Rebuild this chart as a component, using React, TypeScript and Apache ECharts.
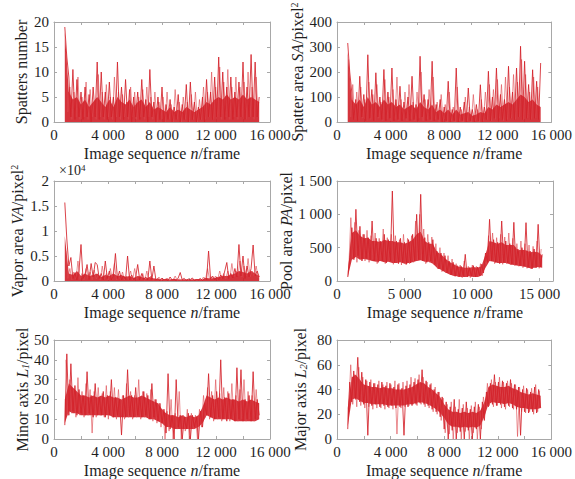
import React, { useEffect, useRef } from 'react';
import * as echarts from 'echarts';

// Sampled image sequence: frame = FRAME_START + i * FRAME_STEP (signal trace)
const FRAME_START = 800;
const FRAME_STEP = 150;
// Second sampled trace, half a step later: frame = FRAME_START_B + i * FRAME_STEP
const FRAME_START_B = 875;
// Dense core of each trace: frame = FRAME_START + i * CORE_STEP
const CORE_STEP = 300;

// Spatters number
const SPATTERS = [
  19, 13, 9, 1, 10.5, 0.5, 8.5, 1, 6, 0.5,
  7, 1, 5.5, 0, 7, 1, 12, 0.5, 10, 1,
  6, 0.5, 8, 1, 5, 0, 12, 1, 7, 0.5,
  8.5, 1, 6.5, 0, 5, 1, 6, 0.5, 8.5, 1,
  4.5, 0, 10.5, 1, 4, 0, 5, 0.5, 7, 0,
  3.5, 0.5, 4.5, 0, 3, 0.5, 5.5, 0, 3.5, 0.5,
  7.5, 0, 8, 0.5, 4, 0, 3, 0.5, 5, 0,
  8.5, 1, 6, 0.5, 9, 1, 13, 1, 10, 0.5,
  7, 1, 9, 0.5, 6, 1, 8, 1, 12, 0.5,
  7, 1, 13.5, 1, 12, 1, 5,
];
const SPATTERS_B = [
  14, 2, 7, 0.5, 6, 1, 9, 0.5, 5, 1,
  8, 0.5, 6.5, 1, 4, 0.5, 9.5, 1, 6, 0.5,
  7.5, 1, 5, 0.5, 9, 1, 6, 0.5, 5.5, 1,
  4, 0.5, 7, 1, 6, 0.5, 5, 1, 6.5, 0.5,
  7, 1, 5, 0.5, 6, 0, 4, 0.5, 5, 0,
  6, 0.5, 3.5, 0, 6.5, 0.5, 4, 0, 5, 0.5,
  4, 0, 5.5, 0.5, 6, 0, 4.5, 0.5, 7, 0.5,
  6, 1, 10, 0.5, 7, 1, 11, 0.5, 8, 1,
  10.5, 0.5, 7, 1, 9, 0.5, 7, 1, 8, 0.5,
  10, 1, 7, 0.5, 9, 1,
];
const SPATTERS_CORE_HI = [
  18, 6, 4.5, 5, 3.5, 4.5, 3, 4, 5, 4,
  3, 4.5, 3, 5, 4, 3.5, 4.5, 3, 4, 4.5,
  3, 4, 2.5, 3, 2.5, 2, 3, 2, 2.5, 2,
  3, 2.5, 2, 2.5, 3, 4, 3.5, 4.5, 5, 4.5,
  5.5, 4.5, 5, 4.5, 5.5, 4.5, 5, 4.5, 4,
];

// Spatter area SA / pixel^2
const SPATTER_AREA = [
  316, 200, 120, 10, 90, 5, 183, 20, 110, 5,
  269, 15, 130, 5, 197, 20, 100, 10, 210, 5,
  120, 15, 216, 5, 90, 10, 143, 5, 80, 15,
  100, 5, 183, 10, 70, 5, 263, 20, 110, 5,
  90, 10, 243, 5, 70, 10, 90, 0, 60, 5,
  163, 0, 50, 5, 216, 0, 60, 5, 80, 0,
  136, 5, 50, 0, 70, 5, 149, 0, 60, 10,
  203, 5, 100, 15, 216, 5, 110, 10, 90, 5,
  223, 15, 120, 10, 216, 20, 303, 10, 243, 15,
  150, 10, 209, 15, 163, 10, 236,
];
const SPATTER_AREA_B = [
  250, 20, 150, 10, 120, 5, 140, 15, 90, 5,
  160, 10, 110, 5, 150, 15, 80, 5, 170, 10,
  100, 5, 130, 10, 180, 5, 90, 10, 120, 5,
  150, 10, 80, 5, 120, 15, 200, 5, 90, 10,
  130, 5, 180, 10, 80, 0, 110, 5, 70, 0,
  120, 5, 60, 0, 140, 5, 50, 0, 100, 5,
  60, 0, 110, 5, 50, 0, 90, 5, 120, 10,
  150, 5, 130, 10, 170, 15, 150, 5, 180, 10,
  140, 15, 190, 10, 160, 20, 250, 10, 190, 15,
  120, 10, 180, 15, 140, 10,
];
const SPATTER_AREA_CORE_HI = [
  280, 90, 70, 90, 60, 100, 70, 80, 60, 90,
  70, 80, 60, 70, 50, 60, 70, 50, 80, 60,
  50, 70, 40, 50, 35, 50, 30, 50, 30, 35,
  40, 25, 30, 40, 35, 60, 50, 70, 60, 70,
  80, 70, 90, 110, 100, 80, 90, 70, 60,
];

// Vapor area VA / pixel^2 (x 10^4)
const VAPOR_AREA = [
  1.57, 0.84, 0.3, 0.47, 0.05, 0.15, 0.02, 0.2, 0.73, 0.05,
  0.12, 0.33, 0.03, 0.35, 0.08, 0.37, 0.33, 0.05, 0.15, 0.02,
  0.4, 0.05, 0.2, 0.02, 0.1, 0.55, 0.05, 0.2, 0.02, 0.1,
  0.03, 0.5, 0.02, 0.12, 0.03, 0.08, 0.33, 0.02, 0.15, 0.03,
  0.08, 0.02, 0.4, 0.03, 0.3, 0.02, 0.05, 0.01, 0.06, 0.02,
  0.04, 0.01, 0.08, 0.02, 0.04, 0.01, 0.06, 0.17, 0.02, 0.05,
  0.01, 0.04, 0.02, 0.06, 0.01, 0.03, 0.02, 0.05, 0.01, 0.06,
  0.03, 0.6, 0.04, 0.1, 0.02, 0.08, 0.03, 0.12, 0.05, 0.2,
  0.37, 0.05, 0.15, 0.06, 0.25, 0.08, 0.73, 0.1, 0.5, 0.05,
  0.3, 0.08, 0.25, 0.72, 0.1, 0.2, 0.08,
];
const VAPOR_AREA_B = [
  0.6, 0.05, 0.25, 0.02, 0.18, 0.04, 0.4, 0.03, 0.15, 0.02,
  0.25, 0.05, 0.18, 0.02, 0.22, 0.04, 0.12, 0.02, 0.3, 0.03,
  0.15, 0.02, 0.25, 0.03, 0.35, 0.02, 0.1, 0.03, 0.18, 0.02,
  0.1, 0.03, 0.2, 0.02, 0.25, 0.03, 0.1, 0.02, 0.15, 0.01,
  0.2, 0.02, 0.1, 0.01, 0.05, 0.02, 0.08, 0.01, 0.04, 0.01,
  0.06, 0.01, 0.03, 0.02, 0.1, 0.01, 0.04, 0.01, 0.05, 0.02,
  0.03, 0.01, 0.05, 0.02, 0.03, 0.01, 0.04, 0.02, 0.08, 0.03,
  0.25, 0.03, 0.08, 0.04, 0.1, 0.03, 0.2, 0.05, 0.15, 0.04,
  0.2, 0.05, 0.35, 0.08, 0.2, 0.1, 0.4, 0.08, 0.3, 0.1,
  0.45, 0.08, 0.2, 0.1, 0.3, 0.06,
];
const VAPOR_AREA_CORE_HI = [
  0.9, 0.15, 0.12, 0.2, 0.1, 0.15, 0.1, 0.12, 0.15, 0.08,
  0.12, 0.1, 0.15, 0.1, 0.12, 0.08, 0.1, 0.06, 0.1, 0.08,
  0.05, 0.08, 0.05, 0.04, 0.03, 0.04, 0.03, 0.04, 0.03, 0.03,
  0.03, 0.03, 0.03, 0.04, 0.03, 0.06, 0.05, 0.06, 0.08, 0.1,
  0.1, 0.12, 0.15, 0.2, 0.18, 0.15, 0.2, 0.15, 0.1,
];

// Pool area PA / pixel
const POOL_AREA = [
  60, 350, 800, 320, 1075, 380, 820, 300, 700, 340,
  650, 320, 900, 300, 640, 280, 600, 300, 700, 270,
  620, 300, 1350, 280, 600, 260, 640, 280, 580, 250,
  620, 270, 700, 300, 1000, 320, 1300, 300, 650, 280,
  580, 300, 620, 250, 450, 180, 420, 150, 380, 120,
  300, 90, 280, 70, 230, 60, 220, 80, 400, 60,
  200, 70, 230, 60, 210, 80, 250, 120, 420, 280,
  925, 300, 620, 280, 580, 260, 900, 280, 600, 270,
  560, 250, 880, 240, 480, 230, 500, 220, 875, 200,
  450, 180, 480, 200, 850, 210, 400,
];
const POOL_AREA_B = [
  200, 950, 350, 880, 280, 760, 330, 700, 300, 760,
  280, 680, 320, 720, 260, 640, 300, 780, 260, 650,
  300, 700, 250, 680, 280, 620, 240, 700, 250, 640,
  260, 680, 280, 900, 300, 1000, 320, 780, 260, 700,
  280, 660, 250, 560, 180, 500, 140, 420, 120, 380,
  100, 330, 80, 260, 60, 240, 50, 300, 60, 220,
  50, 240, 60, 220, 70, 260, 80, 300, 250, 680,
  300, 720, 260, 650, 280, 700, 250, 660, 260, 720,
  240, 640, 230, 560, 220, 600, 200, 560, 190, 540,
  180, 520, 200, 600, 190, 480,
];
const POOL_AREA_CORE_HI = [
  150, 720, 760, 680, 640, 650, 600, 600, 580, 620,
  600, 600, 580, 580, 560, 580, 620, 700, 740, 600,
  560, 560, 440, 400, 340, 290, 260, 220, 210, 200,
  200, 210, 200, 220, 400, 600, 580, 560, 580, 540,
  540, 540, 460, 470, 460, 430, 440, 430, 380,
];
const POOL_AREA_CORE_LO = [
  60, 320, 360, 320, 330, 320, 300, 290, 300, 280,
  290, 270, 270, 280, 260, 270, 280, 300, 310, 290,
  290, 260, 200, 170, 130, 100, 80, 70, 60, 60,
  70, 60, 60, 80, 200, 300, 290, 270, 270, 270,
  250, 240, 230, 220, 210, 190, 200, 210, 200,
];

// Minor axis L1 / pixel
const MINOR_AXIS = [
  7, 43, 12, 38, 14, 27, 12, 25, 13, 22,
  12, 34, 13, 22, 11, 28, 12, 21, 12, 24,
  11, 22, 12, 30, 11, 21, 12, 20, 2, 22,
  11, 35, 12, 22, 11, 26, 12, 21, 11, 24,
  12, 22, 10, 28, 11, 20, 9, 18, 8, 15,
  3, 33, 5, 12, 0, 30, 6, 12, 0, 11,
  5, 13, 0, 12, 6, 11, 0, 14, 6, 18,
  12, 33, 11, 22, 10, 24, 11, 40, 10, 21,
  9, 23, 10, 20, 9, 36, 10, 35, 9, 20,
  10, 22, 9, 34, 10, 20, 12,
];
const MINOR_AXIS_B = [
  40, 12, 30, 13, 25, 11, 31, 12, 24, 11,
  28, 12, 25, 3, 24, 11, 26, 12, 23, 11,
  27, 10, 24, 11, 26, 10, 25, 11, 22, 10,
  28, 11, 24, 10, 22, 11, 30, 10, 24, 11,
  23, 10, 25, 9, 20, 8, 18, 6, 15, 0,
  14, 4, 20, 0, 13, 5, 24, 0, 12, 4,
  15, 0, 13, 5, 12, 0, 15, 6, 22, 11,
  26, 10, 24, 9, 30, 10, 23, 9, 26, 10,
  24, 9, 28, 10, 22, 9, 25, 10, 30, 9,
  24, 10, 22, 9, 25, 11,
];
const MINOR_AXIS_CORE_HI = [
  20, 28, 26, 24, 22, 22, 21, 22, 21, 22,
  21, 22, 21, 21, 20, 21, 22, 21, 21, 22,
  21, 20, 19, 18, 15, 13, 12, 12, 11, 12,
  11, 12, 11, 12, 16, 22, 21, 20, 21, 20,
  21, 20, 20, 19, 20, 19, 20, 19, 18,
];
const MINOR_AXIS_CORE_LO = [
  8, 14, 13, 13, 12, 12, 12, 12, 12, 12,
  12, 12, 11, 11, 11, 11, 11, 11, 11, 11,
  11, 10, 10, 9, 8, 6, 6, 5, 5, 5,
  5, 5, 5, 6, 8, 12, 11, 10, 10, 10,
  10, 10, 9, 9, 9, 9, 9, 9, 10,
];

// Major axis L2 / pixel
const MAJOR_AXIS = [
  8, 46, 30, 55, 32, 66, 30, 54, 28, 48,
  3, 46, 27, 45, 28, 44, 26, 46, 27, 43,
  26, 45, 27, 42, 25, 44, 26, 41, 3, 43,
  26, 44, 27, 46, 28, 48, 29, 56, 28, 47,
  27, 44, 24, 40, 22, 38, 18, 34, 8, 30,
  0, 26, 7, 32, 0, 24, 6, 25, 0, 30,
  7, 24, 0, 26, 8, 28, 0, 30, 15, 38,
  26, 45, 28, 52, 27, 46, 28, 47, 26, 45,
  27, 48, 25, 44, 24, 42, 3, 40, 22, 41,
  21, 38, 22, 42, 21, 40, 25,
];
const MAJOR_AXIS_B = [
  25, 60, 28, 52, 26, 58, 27, 50, 25, 47,
  26, 48, 24, 45, 25, 47, 25, 44, 24, 46,
  25, 44, 24, 47, 4, 45, 25, 46, 26, 47,
  27, 50, 28, 49, 27, 52, 28, 50, 26, 46,
  25, 45, 22, 42, 20, 38, 15, 33, 5, 28,
  4, 30, 0, 26, 5, 32, 0, 28, 6, 25,
  0, 27, 5, 30, 0, 26, 8, 34, 22, 45,
  27, 48, 26, 46, 27, 50, 25, 46, 24, 47,
  26, 45, 24, 44, 2, 42, 22, 43, 21, 40,
  22, 41, 20, 44, 22, 39,
];
const MAJOR_AXIS_CORE_HI = [
  25, 50, 52, 48, 44, 43, 42, 42, 41, 42,
  41, 41, 40, 40, 40, 41, 42, 44, 46, 45,
  42, 40, 37, 34, 28, 24, 22, 22, 21, 22,
  21, 22, 21, 23, 30, 42, 44, 43, 42, 42,
  43, 41, 40, 38, 37, 36, 37, 36, 35,
];
const MAJOR_AXIS_CORE_LO = [
  10, 32, 33, 31, 29, 29, 28, 28, 28, 28,
  27, 27, 27, 27, 27, 28, 28, 29, 30, 29,
  28, 26, 24, 21, 17, 12, 10, 10, 9, 10,
  9, 10, 9, 11, 18, 28, 30, 29, 29, 28,
  29, 28, 26, 25, 25, 24, 24, 24, 25,
];

const FONT = "'Liberation Serif', 'Times New Roman', Times, serif";
const AX = '#a8a8a8';
const TXT = '#1e1e1e';
const RED = '#d01e27';
const RED_LINE = 'rgba(212, 34, 42, 0.85)';
const RED_LIGHT = 'rgba(222, 72, 78, 0.6)';

const fmt = (v: number) => String(v).replace(/\B(?=(\d{3})+(?!\d))/g, ' ');

const richBase = {
  n: { fontFamily: FONT, fontSize: 16, color: TXT },
  i: { fontFamily: FONT, fontSize: 16, color: TXT, fontStyle: 'italic' },
  sup: { fontFamily: FONT, fontSize: 10, color: TXT, verticalAlign: 'top' },
  sub: { fontFamily: FONT, fontSize: 10, color: TXT, fontStyle: 'italic', verticalAlign: 'bottom' },
};

type Panel = {
  left: number; top: number; width: number;
  values: number[]; valuesB: number[]; coreHi: number[]; coreLo?: number[];
  yMax: number; yInt: number;
  xInt: number; xLabelEvery: number; yFmt: (v: number) => string;
  name: string; nameGap: number;
};

const PANELS: Panel[] = [
  { left: 54, top: 22, width: 216, values: SPATTERS, valuesB: SPATTERS_B, coreHi: SPATTERS_CORE_HI,
    yMax: 20, yInt: 5, xInt: 2000, xLabelEvery: 4000, yFmt: fmt,
    name: '{n|Spatters number}', nameGap: 25 },
  { left: 337, top: 22, width: 215, values: SPATTER_AREA, valuesB: SPATTER_AREA_B, coreHi: SPATTER_AREA_CORE_HI,
    yMax: 400, yInt: 100, xInt: 2000, xLabelEvery: 4000, yFmt: fmt,
    name: '{n|Spatter area }{i|SA}{n|/pixel}{sup|2}', nameGap: 31 },
  { left: 54, top: 181, width: 216, values: VAPOR_AREA, valuesB: VAPOR_AREA_B, coreHi: VAPOR_AREA_CORE_HI,
    yMax: 2, yInt: 0.5, xInt: 2000, xLabelEvery: 4000, yFmt: (v) => String(v),
    name: '{n|Vapor area }{i|VA}{n|/pixel}{sup|2}', nameGap: 29 },
  { left: 337, top: 181, width: 216, values: POOL_AREA, valuesB: POOL_AREA_B,
    coreHi: POOL_AREA_CORE_HI, coreLo: POOL_AREA_CORE_LO,
    yMax: 1500, yInt: 500, xInt: 5000, xLabelEvery: 5000, yFmt: fmt,
    name: '{n|Pool area }{i|PA}{n|/pixel}', nameGap: 37 },
  { left: 54, top: 340, width: 216, values: MINOR_AXIS, valuesB: MINOR_AXIS_B,
    coreHi: MINOR_AXIS_CORE_HI, coreLo: MINOR_AXIS_CORE_LO,
    yMax: 50, yInt: 10, xInt: 2000, xLabelEvery: 4000, yFmt: fmt,
    name: '{n|Minor axis }{i|L}{sub|1}{n|/pixel}', nameGap: 23 },
  { left: 337, top: 340, width: 215, values: MAJOR_AXIS, valuesB: MAJOR_AXIS_B,
    coreHi: MAJOR_AXIS_CORE_HI, coreLo: MAJOR_AXIS_CORE_LO,
    yMax: 80, yInt: 20, xInt: 2000, xLabelEvery: 4000, yFmt: fmt,
    name: '{n|Major axis }{i|L}{sub|2}{n|/pixel}', nameGap: 29 },
];

function buildOption() {
  const grid: any[] = [];
  const xAxis: any[] = [];
  const yAxis: any[] = [];
  const series: any[] = [];
  PANELS.forEach((p, k) => {
    grid.push({ left: p.left, top: p.top, width: p.width, height: 100, containLabel: false });
    const line = { show: true, onZero: false, lineStyle: { color: AX, width: 1 } };
    const tick = { show: true, inside: true, length: 3, lineStyle: { color: AX, width: 1 } };
    xAxis.push({
      gridIndex: k, type: 'value', position: 'bottom', min: 0, max: 16000, interval: p.xInt,
      axisLine: line, axisTick: tick, splitLine: { show: false },
      axisLabel: {
        fontFamily: FONT, fontSize: 15, color: TXT, margin: 5,
        formatter: (v: number) => (v % p.xLabelEvery === 0 ? fmt(v) : ''),
      },
      name: '{n|Image sequence }{i|n}{n|/frame}', nameLocation: 'middle', nameGap: 23,
      nameTextStyle: { rich: richBase },
    });
    xAxis.push({
      gridIndex: k, type: 'value', position: 'top', min: 0, max: 16000, interval: p.xInt,
      axisLine: line, axisTick: tick, splitLine: { show: false }, axisLabel: { show: false },
    });
    yAxis.push({
      gridIndex: k, type: 'value', position: 'left', min: 0, max: p.yMax, interval: p.yInt,
      axisLine: line, axisTick: tick, splitLine: { show: false },
      axisLabel: { fontFamily: FONT, fontSize: 15, color: TXT, margin: 5, formatter: p.yFmt },
      name: p.name, nameLocation: 'middle', nameGap: p.nameGap,
      nameTextStyle: { rich: richBase },
    });
    yAxis.push({
      gridIndex: k, type: 'value', position: 'right', min: 0, max: p.yMax, interval: p.yInt,
      axisLine: line, axisTick: tick, splitLine: { show: false }, axisLabel: { show: false },
    });
    // lighter second trace
    series.push({
      type: 'line', xAxisIndex: 2 * k, yAxisIndex: 2 * k, silent: true,
      symbol: 'none', showSymbol: false,
      lineStyle: { color: RED_LIGHT, width: 1 },
      data: p.valuesB.map((v, i) => [FRAME_START_B + i * FRAME_STEP, v]),
    });
    // dense core band, drawn through the panel's own axes
    const hi = p.coreHi;
    const lo = p.coreLo;
    series.push({
      type: 'custom', xAxisIndex: 2 * k, yAxisIndex: 2 * k, silent: true,
      data: [[FRAME_START, 0]],
      renderItem: (_params: any, api: any) => {
        const pts: number[][] = [];
        hi.forEach((v, i) => pts.push(api.coord([FRAME_START + i * CORE_STEP, v])));
        for (let i = hi.length - 1; i >= 0; i--) {
          pts.push(api.coord([FRAME_START + i * CORE_STEP, lo ? lo[i] : 0]));
        }
        return { type: 'polygon', shape: { points: pts }, style: { fill: RED, opacity: 0.9 } };
      },
    });
    series.push({
      type: 'line', xAxisIndex: 2 * k, yAxisIndex: 2 * k, silent: true,
      symbol: 'none', showSymbol: false,
      lineStyle: { color: RED_LINE, width: 1 },
      data: p.values.map((v, i) => [FRAME_START + i * FRAME_STEP, v]),
    });
  });
  return {
    animation: false,
    backgroundColor: '#ffffff',
    grid, xAxis, yAxis, series,
    graphic: [
      {
        type: 'text', left: 59, top: 163,
        style: {
          text: '{a|×10}{s|4}',
          rich: {
            a: { fontFamily: FONT, fontSize: 14, fill: TXT },
            s: { fontFamily: FONT, fontSize: 9, fill: TXT, verticalAlign: 'top' },
          },
        },
      },
    ],
  };
}

export default function App() {
  const ref = useRef<HTMLDivElement>(null);
  useEffect(() => {
    if (!ref.current) return;
    const chart = echarts.init(ref.current, undefined, { renderer: 'svg' });
    chart.setOption(buildOption() as any);
    return () => chart.dispose();
  }, []);
  return (
    <div
      ref={ref}
      style={{ position: 'fixed', left: 0, top: 0, width: 575, height: 479, background: '#fff' }}
    />
  );
}
